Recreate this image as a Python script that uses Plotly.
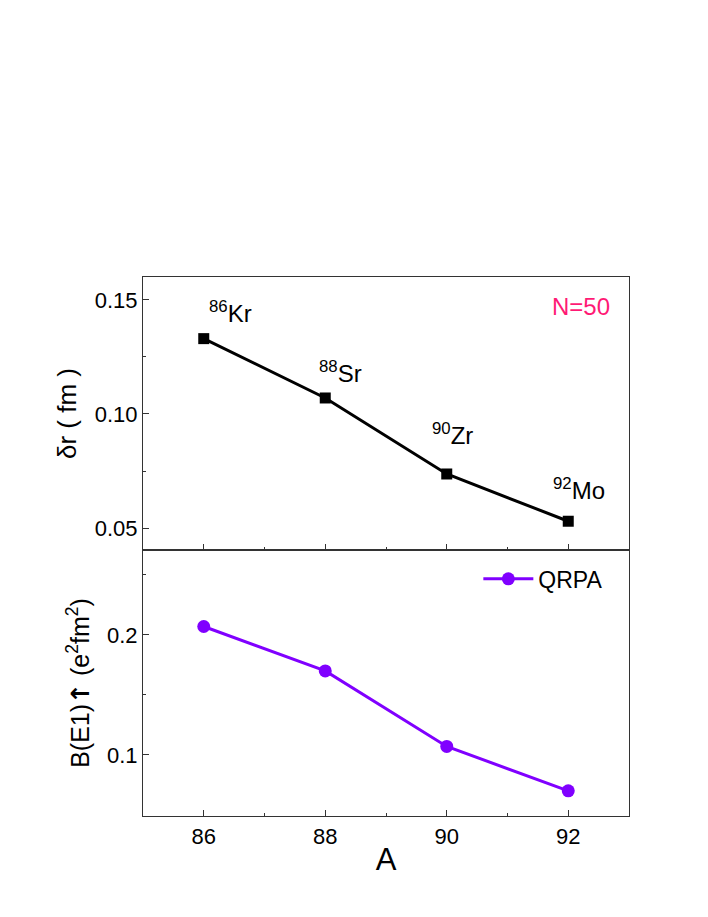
import plotly.graph_objects as go
from plotly.subplots import make_subplots

A = [86, 88, 90, 92]
nuclei = ["<sup>86</sup>Kr", "<sup>88</sup>Sr", "<sup>90</sup>Zr", "<sup>92</sup>Mo"]
delta_r = [0.133, 0.107, 0.0737, 0.053]
be1_qrpa = [0.207, 0.170, 0.107, 0.070]

BLACK = "#000000"
PURPLE = "#8000FF"
PINK = "#FF1A75"
FONT = "Liberation Sans, Arial, sans-serif"

fig = make_subplots(rows=2, cols=1, shared_xaxes=True, vertical_spacing=0,
                    row_heights=[273 / 539, 266 / 539])

fig.add_trace(go.Scatter(
    x=A, y=delta_r, mode="lines+markers", showlegend=False,
    line=dict(color=BLACK, width=3),
    marker=dict(symbol="square", size=11, color=BLACK),
), row=1, col=1)

fig.add_trace(go.Scatter(
    x=A, y=be1_qrpa, mode="lines+markers", name="QRPA",
    line=dict(color=PURPLE, width=3),
    marker=dict(symbol="circle", size=13, color=PURPLE),
), row=2, col=1)

# nucleus labels above each point
label_dx = [0.05, -0.13, -0.27, -0.28]
label_y = [0.1446, 0.1184, 0.0912, 0.0672]
for xv, dx, yv, txt in zip(A, label_dx, label_y, nuclei):
    fig.add_annotation(x=xv + dx, y=yv, text=txt, showarrow=False,
                       xanchor="left", yanchor="middle",
                       font=dict(size=24, color=BLACK, family=FONT),
                       xref="x", yref="y")

fig.add_annotation(x=0.965, y=0.946, xref="paper", yref="paper", text="N=50",
                   showarrow=False, xanchor="right", yanchor="middle",
                   font=dict(size=24, color=PINK, family=FONT))

axis_common = dict(
    showline=True, linecolor="#333333", linewidth=1.2, mirror=True,
    ticks="inside", ticklen=6, tickcolor="#333333", showgrid=False, zeroline=False,
    tickfont=dict(size=22, color=BLACK, family=FONT),
)

fig.update_xaxes(range=[85, 93], tickvals=[86, 88, 90, 92],
                 minor=dict(ticks="inside", ticklen=3, dtick=1, tick0=85, tickcolor="#333333"),
                 **axis_common)
fig.update_xaxes(showticklabels=False, row=1, col=1)
fig.update_xaxes(title=dict(text="A", font=dict(size=31, color=BLACK, family=FONT), standoff=0),
                 row=2, col=1)

fig.update_yaxes(range=[0.0404, 0.160], tickvals=[0.05, 0.10, 0.15], tickformat=".2f",
                 minor=dict(ticks="inside", ticklen=3, tickvals=[0.075, 0.125], tickcolor="#333333"),
                 title=dict(text="δr ( fm )", font=dict(size=26, color=BLACK, family=FONT), standoff=10),
                 row=1, col=1, **axis_common)
fig.update_yaxes(range=[0.049, 0.2708], tickvals=[0.1, 0.2], tickformat=".1f",
                 minor=dict(ticks="inside", ticklen=3, tickvals=[0.15, 0.25], tickcolor="#333333"),
                 title=dict(text="B(E1)<span style='font-family:DejaVu Sans;font-weight:bold'>↑</span> "
                                 "(e<sup>2</sup>fm<sup>2</sup>)",
                            font=dict(size=25, color=BLACK, family=FONT), standoff=10),
                 row=2, col=1, **axis_common)

fig.update_layout(
    width=700, height=909,
    margin=dict(l=135, r=79, t=269, b=101),
    plot_bgcolor="white", paper_bgcolor="white",
    font=dict(family=FONT, color=BLACK),
    legend=dict(x=0.69, y=0.44, xanchor="left", yanchor="middle",
                bgcolor="rgba(0,0,0,0)", itemwidth=50,
                font=dict(size=23, color=BLACK, family=FONT)),
)

fig.write_html("out.html")
